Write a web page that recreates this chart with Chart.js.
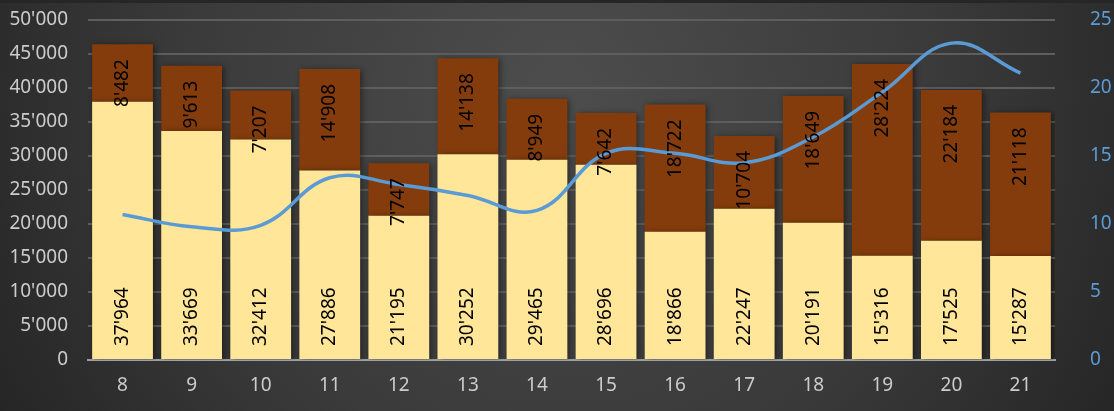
<!DOCTYPE html>
<html>
<head>
<meta charset="utf-8">
<script src="https://cdn.jsdelivr.net/npm/chart.js@4/dist/chart.umd.min.js"></script>
<style>
  html, body { margin: 0; padding: 0; background: #2a2a2a; }
  #wrap { width: 1114px; height: 411px; }
</style>
</head>
<body>
<div id="wrap"><canvas id="chart" width="1114" height="411"></canvas></div>
<script>
// Daten
var categories = ['8', '9', '10', '11', '12', '13', '14', '15', '16', '17', '18', '19', '20', '21'];
var lowerValues = [37964, 33669, 32412, 27886, 21195, 30252, 29465, 28696, 18866, 22247, 20191, 15316, 17525, 15287];
var upperValues = [8482, 9613, 7207, 14908, 7747, 14138, 8949, 7642, 18722, 10704, 18649, 28224, 22184, 21118];
var lineValues = [10.7, 9.8, 9.9, 13.4, 12.9, 12.1, 11.0, 15.2, 15.2, 14.5, 16.4, 19.7, 23.3, 21.1];
var leftTicks = [0, 5000, 10000, 15000, 20000, 25000, 30000, 35000, 40000, 45000, 50000];
var rightTicks = [0, 5, 10, 15, 20, 25];

var fontName = '"Noto Sans", sans-serif';

// Tausendertrennzeichen mit Apostroph
var fmt = (v) => String(Math.round(v)).replace(/\B(?=(\d{3})+(?!\d))/g, "'");

// Hintergrund mit radialem Verlauf
var bgPlugin = {
    id: 'bg',
    beforeDraw: (chart) => {
        var ctx = chart.ctx;
        var g = ctx.createRadialGradient(560, 90, 20, 560, 90, 680);
        g.addColorStop(0, '#4c4c4c');
        g.addColorStop(0.55, '#3a3a3a');
        g.addColorStop(1, '#232323');
        ctx.save();
        ctx.fillStyle = g;
        ctx.fillRect(0, 0, chart.width, chart.height);
        ctx.fillStyle = '#262626';
        ctx.fillRect(0, 0, chart.width, 3);
        ctx.restore();
    }
};

// Schatten unter den Balken
var shadowPlugin = {
    id: 'barShadow',
    beforeDatasetDraw: (chart, args) => {
        if (args.meta.type !== 'bar') return;
        var ctx = chart.ctx;
        ctx.save();
        ctx.shadowColor = 'rgba(0,0,0,0.45)';
        ctx.shadowBlur = 6;
        ctx.shadowOffsetX = 2;
        ctx.shadowOffsetY = 1;
    },
    afterDatasetDraw: (chart, args) => {
        if (args.meta.type !== 'bar') return;
        chart.ctx.restore();
    }
};

// Beschriftungen in den Balken (gedreht)
var labelPlugin = {
    id: 'barLabels',
    afterDatasetsDraw: (chart) => {
        var ctx = chart.ctx;
        ctx.save();
        ctx.font = '19px ' + fontName;
        ctx.fillStyle = '#000000';
        ctx.textBaseline = 'middle';
        [0, 1].forEach((di) => {
            var meta = chart.getDatasetMeta(di);
            var values = chart.data.datasets[di].data;
            meta.data.forEach((bar, i) => {
                var p = bar.getProps(['x', 'y', 'base'], true);
                var top = Math.min(p.y, p.base);
                var bottom = Math.max(p.y, p.base);
                ctx.save();
                if (di === 0) {
                    ctx.translate(p.x, bottom - 13);
                    ctx.rotate(-Math.PI / 2);
                    ctx.textAlign = 'left';
                } else {
                    ctx.translate(p.x, top + 15);
                    ctx.rotate(-Math.PI / 2);
                    ctx.textAlign = 'right';
                }
                ctx.fillText(fmt(values[i]), 0, 0);
                ctx.restore();
            });
        });
        ctx.restore();
    }
};

var context = document.getElementById('chart').getContext('2d');
var data = {
    labels: categories,
    datasets: [{
        type: 'bar',
        data: lowerValues,
        backgroundColor: '#FFE699',
        stack: 's',
        order: 2,
        yAxisID: 'y',
        barPercentage: 0.88,
        categoryPercentage: 1.0
    }, {
        type: 'bar',
        data: upperValues,
        backgroundColor: '#843C0C',
        stack: 's',
        order: 2,
        yAxisID: 'y',
        barPercentage: 0.88,
        categoryPercentage: 1.0
    }, {
        type: 'line',
        data: lineValues,
        borderColor: '#5B9BD5',
        borderWidth: 3.5,
        pointRadius: 0,
        tension: 0.4,
        cubicInterpolationMode: 'default',
        fill: false,
        order: 1,
        yAxisID: 'y2'
    }]
};
var config = {
    data: data,
    plugins: [bgPlugin, shadowPlugin, labelPlugin],
    options: {
        responsive: false,
        animation: false,
        devicePixelRatio: 1,
        layout: { padding: { top: 20, left: 0, right: 0, bottom: 0 } },
        plugins: { legend: { display: false }, tooltip: { enabled: false } },
        scales: {
            x: {
                stacked: true,
                grid: { display: false, drawTicks: false },
                border: { display: true, color: '#a0a0a0', width: 2 },
                ticks: { color: '#cccccc', font: { family: fontName, size: 19 }, padding: 14 },
                afterFit: (s) => { s.height = 51; }
            },
            y: {
                stacked: true,
                position: 'left',
                min: 0,
                max: 50000,
                afterBuildTicks: (s) => { s.ticks = leftTicks.map((v) => ({ value: v })); },
                grid: { color: '#5e5e5e', lineWidth: 2, drawTicks: false },
                border: { display: false },
                ticks: {
                    color: '#cccccc',
                    font: { family: fontName, size: 19 },
                    padding: 20,
                    callback: (v) => fmt(v)
                },
                afterFit: (s) => { s.width = 88; s.paddingTop = 0; s.paddingBottom = 0; }
            },
            y2: {
                position: 'right',
                min: 0,
                max: 25,
                afterBuildTicks: (s) => { s.ticks = rightTicks.map((v) => ({ value: v })); },
                grid: { display: false, drawTicks: false },
                border: { display: false },
                ticks: {
                    color: '#5B9BD5',
                    font: { family: fontName, size: 19 },
                    padding: 35
                },
                afterFit: (s) => { s.width = 59; s.paddingTop = 0; s.paddingBottom = 0; }
            }
        }
    }
};
var chart = new Chart(context, config);
</script>
</body>
</html>
